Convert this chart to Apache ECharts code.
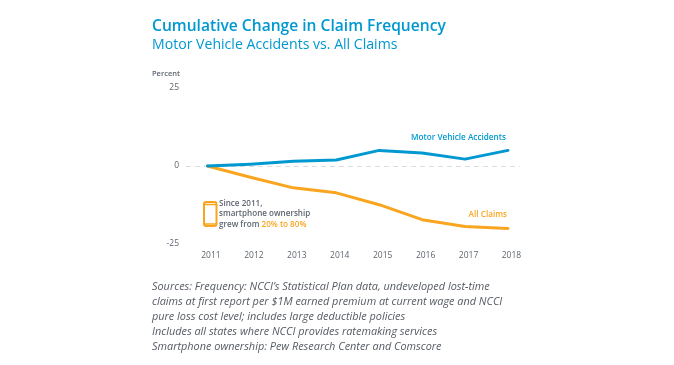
<!DOCTYPE html>
<html>
<head>
<meta charset="utf-8">
<style>
  html, body { margin: 0; padding: 0; background: #fff; }
  #box1 { width: 674px; height: 365px; }
</style>
<script src="https://cdn.jsdelivr.net/npm/echarts@6/dist/echarts.min.js"></script>
</head>
<body>
<div id="box1"></div>
<script>
var years = [2011, 2012, 2013, 2014, 2015, 2016, 2017, 2018];
var motorVehicle = [0, 0.6, 1.5, 1.9, 5, 4.2, 2.2, 5];
var allClaims = [0, -3.6, -7, -8.6, -12.4, -17.2, -19.4, -20];
var yTicks = [-25, 0, 25];
var sources = [
  'Sources: Frequency: NCCI\u2019s Statistical Plan data, undeveloped lost-time',
  'claims at first report per $1M earned premium at current wage and NCCI',
  'pure loss cost level; includes large deductible policies',
  'Includes all states where NCCI provides ratemaking services',
  'Smartphone ownership: Pew Research Center and Comscore'
];

var FONT = '"Open Sans", "Noto Sans", sans-serif';
var BLUE = '#0098d1';
var ORANGE = '#f9a51f';
var GREY = '#5f6670';

function pairs(values) {
  return values.map(function (v, i) { return [years[i], v]; });
}

var myChart = echarts.init(document.getElementById('box1'), null, { renderer: 'canvas' });
var option = {
  animation: false,
  backgroundColor: '#fff',
  textStyle: { fontFamily: FONT },
  grid: { left: 186, right: 154, top: 88, bottom: 121 },
  xAxis: {
    type: 'value',
    min: 2010.5,
    max: 2018.28,
    axisLine: { show: false },
    axisTick: { show: false },
    splitLine: { show: false },
    axisLabel: {
      customValues: years,
      formatter: function (v) { return String(v); },
      color: GREY,
      fontSize: 8.5,
      margin: 7,
      padding: [0, 0, 0, 7], // labels sit a little right of their points in the original
      fontFamily: FONT
    }
  },
  yAxis: {
    type: 'value',
    min: -25,
    max: 25,
    interval: 25,
    axisLine: { show: false },
    axisTick: { show: false },
    splitLine: { show: false },
    axisLabel: {
      customValues: yTicks,
      color: GREY,
      fontSize: 8.5,
      margin: 7,
      padding: [2, 0, 0, 0],
      fontFamily: FONT
    }
  },
  series: [
    {
      name: 'All Claims',
      type: 'line',
      data: pairs(allClaims),
      symbol: 'none',
      z: 2,
      lineStyle: { color: ORANGE, width: 3, cap: 'round', join: 'round' },
      markLine: {
        silent: true,
        symbol: 'none',
        z: 1,
        label: { show: false },
        lineStyle: { color: '#dcdcdc', width: 1, type: [5, 4] },
        data: [{ yAxis: 0 }]
      }
    },
    {
      name: 'Motor Vehicle Accidents',
      type: 'line',
      data: pairs(motorVehicle),
      symbol: 'none',
      z: 3,
      lineStyle: { color: BLUE, width: 3, cap: 'round', join: 'round' }
    }
  ],
  graphic: [
    { type: 'text', left: 152, top: 19, style: { text: 'Cumulative Change in Claim Frequency', fill: BLUE, font: '600 15.6px ' + FONT } },
    { type: 'text', left: 152, top: 38, style: { text: 'Motor Vehicle Accidents vs. All Claims', fill: BLUE, font: '14.1px ' + FONT } },
    { type: 'text', left: 152, top: 70, style: { text: 'Percent', fill: GREY, font: '600 7.5px ' + FONT } },
    { type: 'text', right: 168, top: 134, style: { text: 'Motor Vehicle Accidents', fill: BLUE, font: '600 8.2px ' + FONT } },
    { type: 'text', right: 167, top: 211, style: { text: 'All Claims', fill: ORANGE, font: '600 8.2px ' + FONT } },
    // phone icon
    { type: 'rect', shape: { x: 204, y: 202, width: 12.5, height: 24, r: 2 }, style: { fill: '#fff', stroke: ORANGE, lineWidth: 2 } },
    { type: 'line', shape: { x1: 204, y1: 204.5, x2: 216.5, y2: 204.5 }, style: { stroke: ORANGE, lineWidth: 1.5 } },
    { type: 'line', shape: { x1: 204, y1: 224, x2: 216.5, y2: 224 }, style: { stroke: ORANGE, lineWidth: 1.5 } },
    {
      type: 'text',
      left: 219,
      top: 199.5,
      style: {
        rich: {
          g: { fill: GREY, font: '600 8.1px ' + FONT, lineHeight: 10.5 },
          o: { fill: ORANGE, font: '600 8.1px ' + FONT, lineHeight: 10.5 }
        },
        text: '{g|Since 2011,}\n{g|smartphone ownership}\n{g|grew from }{o|20% to 80%}'
      }
    },
    {
      type: 'text',
      left: 152,
      top: 279,
      style: {
        text: sources.join('\n'),
        fill: '#555b63',
        font: 'italic 10.9px ' + FONT,
        lineHeight: 15
      }
    }
  ]
};
myChart.setOption(option);
</script>
</body>
</html>
